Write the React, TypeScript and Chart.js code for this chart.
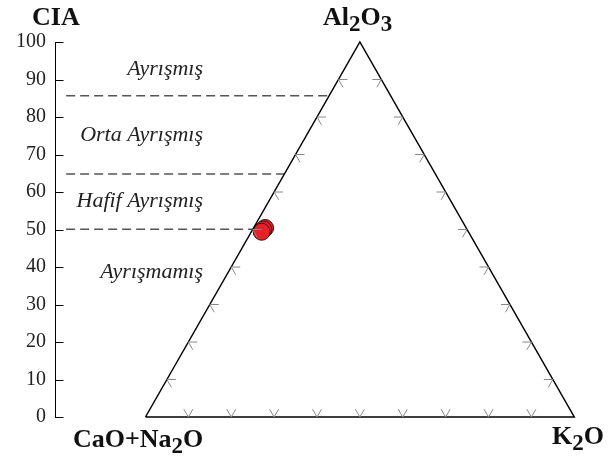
import React, { useEffect, useRef } from "react";
import { Chart, registerables } from "chart.js";

Chart.register(...registerables);

// ---- data ----
const CIA_TICKS = [0, 10, 20, 30, 40, 50, 60, 70, 80, 90, 100];
const TERNARY_TICKS = [10, 20, 30, 40, 50, 60, 70, 80, 90];
const SAMPLE_A = [50.4, 50.0, 49.4];
const SAMPLE_CN = [46.9, 47.5, 48.2];
const SAMPLE_K = [2.7, 2.5, 2.4];
const ZONE_LIMITS = [85.7, 64.8, 50.1];
const ZONE_NAMES = ["Ayrışmış", "Orta Ayrışmış", "Hafif Ayrışmış", "Ayrışmamış"];
const ZONE_LABEL_CIA = [91.3, 73.5, 55.9, 37.0];

// ternary (A, CN, K) -> chart (x, y=CIA)
function toXY(a: number, cn: number, k: number) {
  const s = a + cn + k;
  return { x: (100 * (k + a / 2)) / s, y: (100 * a) / s };
}

const FONT = "Liberation Serif, DejaVu Serif, serif";
const DASH_START_X = -18.5;

function drawFormula(
  ctx: CanvasRenderingContext2D,
  parts: [string, boolean][],
  x: number,
  y: number
) {
  let cx = x;
  ctx.textAlign = "left";
  ctx.textBaseline = "alphabetic";
  ctx.fillStyle = "#111";
  for (const [t, sub] of parts) {
    ctx.font = sub ? `bold 23px ${FONT}` : `bold 26px ${FONT}`;
    ctx.fillText(t, cx, y + (sub ? 6 : 0));
    cx += ctx.measureText(t).width;
  }
}

const decorPlugin = {
  id: "decor",
  afterDatasetsDraw(chart: any) {
    const ctx: CanvasRenderingContext2D = chart.ctx;
    const xs = chart.scales.x;
    const ys = chart.scales.y;
    const px = (p: { x: number; y: number }) => ({
      x: xs.getPixelForValue(p.x),
      y: ys.getPixelForValue(p.y),
    });
    ctx.save();
    // inward ticks on CIA axis
    ctx.strokeStyle = "#000";
    ctx.lineWidth = 1;
    const ax = Math.round(chart.chartArea.left) + 0.5;
    for (const v of CIA_TICKS) {
      const y = Math.round(ys.getPixelForValue(v)) + 0.5;
      ctx.beginPath();
      ctx.moveTo(ax, y);
      ctx.lineTo(ax + 8, y);
      ctx.stroke();
    }
    // ternary ticks
    ctx.strokeStyle = "#888";
    const L = 9;
    const dx = L * 0.5;
    const dy = L * 0.866;
    for (const f of TERNARY_TICKS) {
      const l = px(toXY(f, 100 - f, 0));
      ctx.beginPath();
      ctx.moveTo(l.x + L, l.y);
      ctx.lineTo(l.x, l.y);
      ctx.lineTo(l.x + dx, l.y + dy);
      ctx.stroke();
      const r = px(toXY(f, 0, 100 - f));
      ctx.beginPath();
      ctx.moveTo(r.x - L, r.y);
      ctx.lineTo(r.x, r.y);
      ctx.lineTo(r.x - dx, r.y + dy);
      ctx.stroke();
      const b = px(toXY(0, 100 - f, f));
      ctx.beginPath();
      ctx.moveTo(b.x - dx, b.y - dy);
      ctx.lineTo(b.x, b.y);
      ctx.lineTo(b.x + dx, b.y - dy);
      ctx.stroke();
    }
    // zone labels
    ctx.fillStyle = "#222";
    ctx.font = `italic 22px ${FONT}`;
    ctx.textAlign = "right";
    ctx.textBaseline = "alphabetic";
    ZONE_NAMES.forEach((n, i) => {
      ctx.fillText(n, 203, ys.getPixelForValue(ZONE_LABEL_CIA[i]));
    });
    // titles
    drawFormula(ctx, [["CIA", false]], 32, 25);
    drawFormula(ctx, [["Al", false], ["2", true], ["O", false], ["3", true]], 323, 25);
    drawFormula(ctx, [["CaO+Na", false], ["2", true], ["O", false]], 73, 447);
    drawFormula(ctx, [["K", false], ["2", true], ["O", false]], 552, 444);
    ctx.restore();
  },
};

export default function App() {
  const ref = useRef<HTMLCanvasElement>(null);
  useEffect(() => {
    if (!ref.current) return;
    const tri = [toXY(0, 100, 0), toXY(100, 0, 0), toXY(0, 0, 100), toXY(0, 100, 0)];
    const datasets: any[] = [
      {
        data: tri,
        showLine: true,
        borderColor: "#000",
        borderWidth: 1.5,
        pointRadius: 0,
        clip: false,
      },
      ...ZONE_LIMITS.map((c) => ({
        data: [
          { x: DASH_START_X, y: c },
          { x: toXY(c, 100 - c, 0).x, y: c },
        ],
        showLine: true,
        borderColor: "#555",
        borderWidth: 1.5,
        borderDash: [9, 5],
        pointRadius: 0,
      })),
      {
        data: SAMPLE_A.map((a, i) => toXY(a, SAMPLE_CN[i], SAMPLE_K[i])),
        showLine: false,
        pointRadius: 8.5,
        pointBackgroundColor: "#e8202a",
        pointBorderColor: "#3a1212",
        pointBorderWidth: 1,
      },
    ];
    const chart = new Chart(ref.current, {
      type: "scatter",
      data: { datasets },
      options: {
        animation: false,
        responsive: false,
        events: [],
        layout: { padding: { top: 42, bottom: 40, left: 0, right: 8 } },
        plugins: { legend: { display: false }, tooltip: { enabled: false } },
        scales: {
          x: { type: "linear", display: false, min: -21.1, max: 105.65 },
          y: {
            type: "linear",
            min: 0,
            max: 100,
            afterFit: (s: any) => {
              s.width = 55;
            },
            afterBuildTicks: (s: any) => {
              s.ticks = CIA_TICKS.map((v) => ({ value: v }));
            },
            grid: { display: false, drawTicks: false },
            border: { display: true, color: "#000", width: 1 },
            ticks: {
              autoSkip: false,
              padding: 9,
              color: "#222",
              font: { family: FONT, size: 20 },
            },
          },
        },
      } as any,
      plugins: [decorPlugin],
    });
    return () => chart.destroy();
  }, []);
  return (
    <div style={{ position: "absolute", left: 0, top: 0, width: 608, height: 457, background: "#fff" }}>
      <canvas ref={ref} width={608} height={457} style={{ display: "block" }} />
    </div>
  );
}
